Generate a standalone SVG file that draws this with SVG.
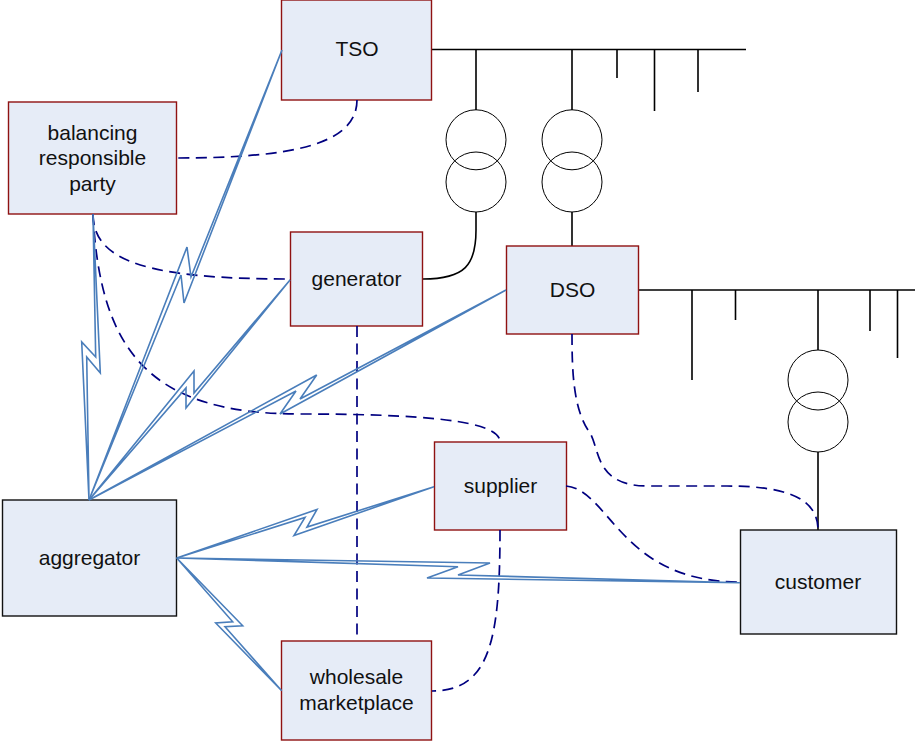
<svg xmlns="http://www.w3.org/2000/svg" width="915" height="742" viewBox="0 0 915 742">
<style>
.box{fill:#e6ecf7;stroke:#8f1212;stroke-width:1.4}
.blk{fill:#e6ecf7;stroke:#111;stroke-width:1.4}
text{font-family:"Liberation Sans",Arial,sans-serif;font-size:21px;fill:#111;text-anchor:middle}
.bolt{fill:none;stroke:#4a7ebb;stroke-width:1.6;stroke-linejoin:miter}
.dash{fill:none;stroke:#000080;stroke-width:1.7;stroke-dasharray:11 6.500}
.line{fill:none;stroke:#000;stroke-width:1.600}
.ring{fill:none;stroke:#000;stroke-width:1}
</style>
<rect width="915" height="742" fill="#fff"/>
<g id="power-lines">
<path class="line" d="M432,49.500H746M476,49.500V110M572,49.500V110M617,49.500V78M654.500,49.500V111M698,49.500V92"/>
<circle class="ring" cx="476" cy="139.800" r="30"/><circle class="ring" cx="476" cy="182" r="30"/>
<circle class="ring" cx="572" cy="139.800" r="30"/><circle class="ring" cx="572" cy="182" r="30"/>
<path class="line" d="M476,212V230C476,265 465,279 423,279M572,212V246"/>
<path class="line" d="M638,290H915M692,290V380M735.500,290V320M818,290V350M870,290V331M897.500,290V358"/>
<circle class="ring" cx="818" cy="380" r="30"/><circle class="ring" cx="818" cy="422" r="30"/>
<path class="line" d="M818,452V530"/>
</g>
<g id="nodes">
<g id="tso"><rect class="box" x="281.500" y="0" width="150" height="100"/><text x="357" y="56">TSO</text></g>
<g id="brp"><rect class="box" x="8.500" y="102" width="168" height="112"/><text x="92.500" y="140">balancing</text><text x="92.500" y="165">responsible</text><text x="92.500" y="191">party</text></g>
<g id="generator"><rect class="box" x="290.500" y="232" width="132" height="94"/><text x="356.500" y="286">generator</text></g>
<g id="dso"><rect class="box" x="506.500" y="246" width="132" height="88"/><text x="572.500" y="297">DSO</text></g>
<g id="supplier"><rect class="box" x="434.500" y="442" width="132" height="88"/><text x="500.500" y="493">supplier</text></g>
<g id="aggregator"><rect class="blk" x="2.500" y="500" width="174" height="116"/><text x="89.500" y="565">aggregator</text></g>
<g id="customer"><rect class="blk" x="740.500" y="530" width="156" height="104"/><text x="818" y="589">customer</text></g>
<g id="wholesale"><rect class="box" x="281.500" y="641" width="150" height="99"/><text x="356.500" y="684">wholesale</text><text x="356.500" y="710">marketplace</text></g>
</g>
<g id="connectors">
<path class="dash" d="M357,100C357,145 290,158 177,158"/>
<path class="dash" d="M93,214C93,262 150,279 290,279"/>
<path class="dash" d="M93,214C100,352 150,414 300,414C420,414 500,420 500,442"/>
<path class="dash" d="M357,326V641"/>
<path class="dash" d="M500,530C500,640 490,691 432,691"/>
<path class="dash" d="M566,486C610,490 620,582 740,582"/>
<path class="dash" d="M572,334C572,370 573,410 590,433C600,450 595,487 650,486H727C790,486 818,500 818,530"/>
<polygon class="bolt" points="89,500 187,247 191,277 282,50 184,303 181,275"/>
<polygon class="bolt" points="89,500 81.700,342 95.700,357 93,214 100.300,373 86.700,357"/>
<polygon class="bolt" points="89,500 194,371 194,393 290,280 186,408 186,388"/>
<polygon class="bolt" points="89,500 316.700,375 300,399 506,290 280,414 296,391"/>
<polygon class="bolt" points="176.700,558 317,509.500 307,527 434,486.700 294,535.500 305,517.500"/>
<polygon class="bolt" points="176.700,558 490,563 458,575 740,582.700 427,578 458,566.700"/>
<polygon class="bolt" points="176.700,558 242.700,625.700 225,626.700 281.700,690.700 215.700,623 232.700,621.700"/>
</g>
</svg>
